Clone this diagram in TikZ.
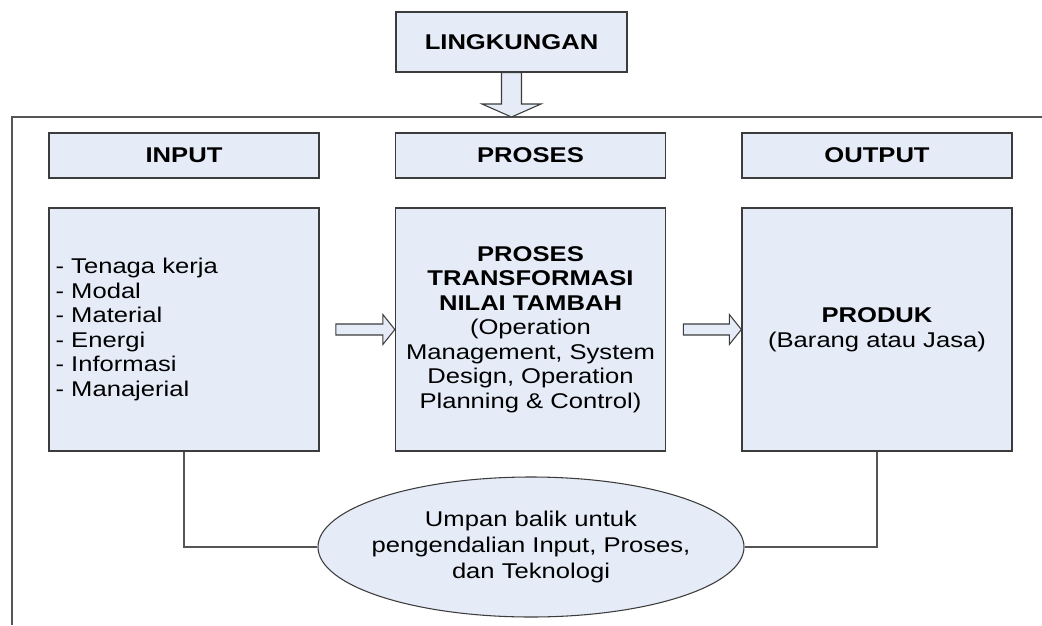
\documentclass[tikz,border=0pt]{standalone}
\usepackage{fontspec}
\setmainfont{Liberation Sans}[FakeStretch=1.2]
\usetikzlibrary{calc,shapes.geometric}

\definecolor{boxfill}{RGB}{229,235,247}
\definecolor{edge}{RGB}{60,60,60}
\definecolor{wire}{RGB}{85,85,85}

% block arrow pointing right, from tail coordinate #1 to tip coordinate #2
\newcommand{\blockright}[2]{%
  \draw[blockarrow]
    ($(#1)+(0,-5.5)$) -- ($(#2)+(-12,-5.5)$) -- ($(#2)+(-12,-15)$) -- (#2)
    -- ($(#2)+(-12,15)$) -- ($(#2)+(-12,5.5)$) -- ($(#1)+(0,5.5)$) -- cycle;}

\begin{document}
\begin{tikzpicture}[x=0.75pt,y=-0.75pt,
  every node/.style={font=\fontsize{16}{18.4}\selectfont},
  box/.style={draw=edge, fill=boxfill, line width=1pt, inner sep=0pt, align=center},
  headbox/.style={box, minimum width=202.5pt, minimum height=33.75pt,
    font=\fontsize{16}{18.4}\selectfont\bfseries},
  bigbox/.style={box, minimum width=202.5pt, minimum height=182.25pt},
  wireline/.style={draw=wire, line width=1.1pt},
  blockarrow/.style={draw=edge, fill=boxfill, line width=0.8pt, line join=miter}]

\useasboundingbox (0,0) rectangle (1042,625);

% surrounding system boundary
\coordinate (frameTR) at (1042,117);
\coordinate (frameBL) at (12,625);
\draw[wireline] (frameTR) -| (frameBL);

% environment
\node[headbox, minimum width=173.25pt, minimum height=45pt] (env) at (511.5,42) {LINGKUNGAN};
\coordinate (envtip) at (511.5,117);
\draw[blockarrow]
  ($(env.south)+(-10,0)$) -- ($(envtip)+(-10,-13)$) -- ($(envtip)+(-29.5,-13)$) -- (envtip)
  -- ($(envtip)+(29.5,-13)$) -- ($(envtip)+(10,-13)$) -- ($(env.south)+(10,0)$) -- cycle;

% column headers
\node[headbox] (inhead)  at (184,155.5)   {INPUT};
\node[headbox] (prhead)  at (530.5,155.5) {PROSES};
\node[headbox] (outhead) at (877,155.5)   {OUTPUT};

% column contents
\node[bigbox] (inbig) at (184,329.5) {};
\node[anchor=west, align=left, inner sep=0pt] (inlist) at ($(inbig.west)+(7,0)$)
  {- Tenaga kerja\\- Modal\\- Material\\- Energi\\- Informasi\\- Manajerial};

\node[bigbox] (prbig) at (530.5,329.5)
  {\textbf{PROSES}\\\textbf{TRANSFORMASI}\\\textbf{NILAI TAMBAH}\\(Operation\\Management, System\\Design, Operation\\Planning \& Control)};

\node[bigbox] (outbig) at (877,329.5)
  {\textbf{PRODUK}\\(Barang atau Jasa)};

% flow arrows
\coordinate (a1tail) at ($(prbig.west)+(-59,0)$);
\coordinate (a2tail) at ($(outbig.west)+(-58,0)$);
\blockright{a1tail}{prbig.west}
\blockright{a2tail}{outbig.west}

% feedback
\node[ellipse, draw=edge, fill=boxfill, line width=0.8pt, inner sep=-40pt,
  minimum width=319.5pt, minimum height=105pt, align=center,
  font=\fontsize{16}{19.8}\selectfont] (fb) at (531,547)
  {Umpan balik untuk\\pengendalian Input, Proses,\\dan Teknologi};
\draw[wireline] (inbig.south) |- (fb.west);
\draw[wireline] (outbig.south) |- (fb.east);

\end{tikzpicture}
\end{document}
